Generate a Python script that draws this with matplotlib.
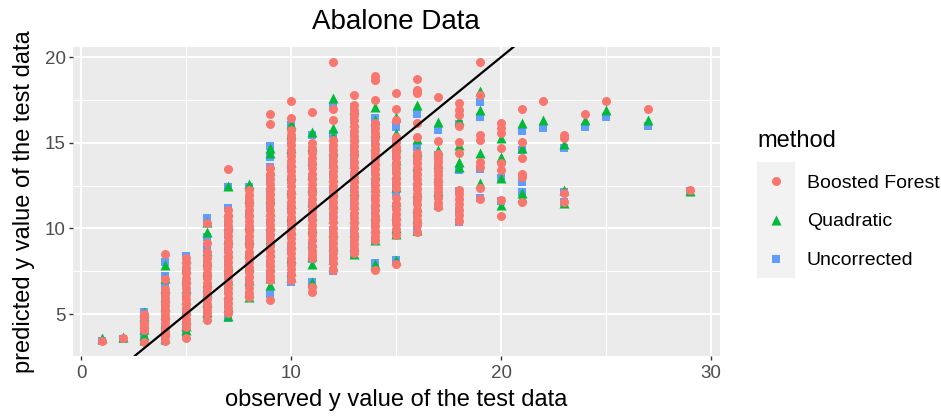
import matplotlib
matplotlib.use("Agg")
import matplotlib.pyplot as plt
from matplotlib.ticker import MultipleLocator

plt.rcParams['font.family'] = ['Liberation Sans', 'DejaVu Sans']

# ---------------- data (predicted values grouped by observed y) ----------------
methods = ["Boosted Forest", "Quadratic", "Uncorrected"]
colors = {"Boosted Forest": "#F8766D", "Quadratic": "#00BA38", "Uncorrected": "#619CFF"}

boosted_forest = {
    1: [3.4], 2: [3.6],
    3: [5.0, 4.75, 4.5, 4.25, 4.05, 3.37],
    4: [8.5, 7.05, 6.45, 6.2, 5.95, 5.7, 5.45, 5.2, 4.95, 4.7, 4.45, 4.2, 3.95, 3.7, 3.45],
    5: [8.25, 8.0, 7.7, 7.4, 7.1, 6.8, 6.5, 6.2, 5.9, 5.6, 5.3, 5.0, 4.7, 4.45, 4.25, 3.6],
    6: [10.3, 9.15, 8.6, 8.3, 8.0, 7.7, 7.4, 7.1, 6.8, 6.5, 6.2, 5.9, 5.6, 5.3, 5.05, 4.65],
    7: [13.45, 11.05, 10.75, 10.45, 10.15, 9.85, 9.55, 9.25, 8.95, 8.65, 8.35, 8.05, 7.75,
        7.45, 7.15, 6.85, 6.55, 6.25, 5.95, 5.65, 5.35, 5.05],
    8: [12.25, 11.95, 11.65, 11.35, 11.05, 10.75, 10.45, 10.15, 9.85, 9.55, 9.25, 8.95, 8.65,
        8.35, 8.05, 7.75, 7.45, 7.15, 6.85, 6.55, 6.25, 6.0],
    9: [16.65, 16.1, 13.5, 13.2, 12.9, 12.6, 12.3, 12.0, 11.7, 11.4, 11.1, 10.8, 10.5, 10.2,
        9.9, 9.6, 9.3, 9.0, 8.7, 8.4, 8.1, 7.8, 7.5, 7.25, 7.0, 5.85],
    10: [17.45, 16.45, 15.75, 15.45, 15.15, 14.85, 14.55, 14.25, 13.95, 13.65, 13.35, 13.05,
         12.75, 12.45, 12.15, 11.85, 11.55, 11.25, 10.95, 10.65, 10.35, 10.05, 9.75, 9.45,
         9.15, 8.85, 8.55, 8.25, 7.95, 7.65, 7.35, 7.0],
    11: [16.8, 15.0, 14.7, 14.4, 14.1, 13.8, 13.5, 13.2, 12.9, 12.6, 12.3, 12.0, 11.7, 11.4,
         11.1, 10.8, 10.5, 10.2, 9.9, 9.6, 9.3, 9.0, 8.7, 8.45, 8.25, 6.6, 6.3],
    12: [19.7, 17.0, 16.3, 15.15, 14.85, 14.55, 14.25, 13.95, 13.65, 13.35, 13.05, 12.75,
         12.45, 12.15, 11.85, 11.55, 11.25, 10.95, 10.65, 10.35, 10.05, 9.75, 9.45, 9.15,
         8.85, 8.55, 8.25, 8.0, 7.55],
    13: [17.8, 17.2, 16.9, 16.6, 16.3, 16.0, 15.7, 15.4, 15.1, 14.8, 14.5, 14.2, 13.9, 13.6,
         13.3, 13.0, 12.7, 12.4, 12.1, 11.8, 11.5, 11.2, 10.9, 10.6, 10.3, 10.0, 9.7, 9.4,
         9.1, 8.8, 8.55],
    14: [18.9, 18.65, 17.5, 16.15, 15.85, 15.55, 15.25, 14.95, 14.65, 14.35, 14.05, 13.75,
         13.45, 13.15, 12.85, 12.55, 12.25, 11.95, 11.65, 11.35, 11.05, 10.75, 10.45, 10.15,
         9.85, 9.55, 9.3, 7.55],
    15: [17.9, 17.0, 16.3, 15.35, 15.05, 14.75, 14.45, 14.15, 13.85, 13.55, 13.25, 12.95,
         12.65, 12.35, 11.75, 11.45, 11.15, 10.85, 10.55, 10.25, 9.95, 9.6, 7.9],
    16: [18.7, 18.1, 17.9, 16.15, 15.35, 14.4, 14.1, 13.8, 13.5, 13.2, 12.9, 12.6, 12.3,
         12.0, 11.7, 11.4, 11.1, 10.8, 10.5, 10.2, 9.8],
    17: [17.7, 15.1, 14.35, 14.1, 13.85, 13.6, 13.35, 13.1, 12.85, 12.6, 12.35, 12.1, 11.8,
         11.5, 11.25],
    18: [17.3, 16.9, 16.6, 16.0, 15.05, 14.4, 12.25, 12.0, 11.7, 11.4, 11.1, 10.8, 10.45],
    19: [19.7, 17.8, 15.45, 15.15, 13.9, 13.6, 12.35, 11.7],
    20: [16.15, 15.85, 15.55, 14.7, 13.8, 13.4, 11.65, 10.7],
    21: [17.0, 15.05, 14.1, 13.2, 13.0, 11.55],
    22: [17.45],
    23: [15.45, 15.25, 12.05, 11.55],
    24: [16.7],
    25: [17.45],
    27: [17.0],
    29: [12.25],
}

quadratic = {
    1: [3.6], 2: [3.65],
    3: [5.15, 4.9, 4.5, 4.1, 3.75, 3.5],
    4: [7.85, 7.1, 6.5, 6.0, 5.5, 5.0, 4.5, 4.0, 3.6],
    5: [8.3, 7.7, 7.1, 6.5, 5.9, 5.3, 4.7, 4.3, 4.05],
    6: [10.4, 9.8, 8.7, 8.1, 7.5, 6.9, 6.3, 5.7, 5.1, 4.9],
    7: [12.45, 11.0, 10.2, 9.4, 8.6, 7.8, 7.0, 6.2, 5.4, 4.9],
    8: [12.6, 11.8, 11.0, 10.2, 9.4, 8.6, 7.8, 7.0, 6.3, 6.0],
    9: [14.7, 14.4, 13.4, 12.6, 11.8, 11.0, 10.2, 9.4, 8.6, 7.8, 7.1, 6.7],
    10: [16.1, 15.5, 14.7, 13.9, 13.1, 12.3, 11.5, 10.7, 9.9, 9.1, 8.3, 7.5, 7.15],
    11: [15.6, 14.8, 14.0, 13.2, 12.4, 11.6, 10.8, 10.0, 9.2, 8.4, 7.95, 6.85],
    12: [17.6, 15.85, 15.4, 14.6, 13.8, 13.0, 12.2, 11.4, 10.6, 9.8, 9.0, 8.2, 7.8],
    13: [17.0, 16.2, 15.4, 14.6, 13.8, 13.0, 12.2, 11.4, 10.6, 9.8, 9.0, 8.5],
    14: [17.1, 16.3, 15.6, 14.8, 14.0, 13.2, 12.4, 11.6, 10.8, 10.0, 9.3, 7.95],
    15: [16.5, 15.55, 14.8, 14.0, 13.2, 12.4, 11.6, 10.8, 10.0, 9.7, 8.15],
    16: [17.2, 15.2, 14.5, 13.7, 12.9, 12.1, 11.25, 10.6, 9.9],
    17: [16.2, 14.55, 13.8, 13.0, 12.2, 11.4],
    18: [16.3, 14.85, 13.9, 13.6],
    19: [18.05, 16.9, 14.4, 12.65],
    20: [15.25, 14.15, 12.95, 11.35],
    21: [16.15, 14.7, 12.05, 11.85],
    22: [16.3],
    23: [14.95, 12.25, 11.5],
    24: [16.3],
    25: [16.9],
    27: [16.35],
    29: [12.2],
}

uncorrected = {
    1: [3.45], 2: [3.55],
    3: [5.1, 4.8, 4.4, 4.1, 3.6, 3.4],
    4: [8.05, 7.25, 6.6, 6.0, 5.4, 4.8, 4.2, 3.6, 3.4],
    5: [8.4, 7.6, 6.8, 6.0, 5.2, 4.5, 4.2, 3.9],
    6: [10.6, 9.5, 8.8, 8.0, 7.2, 6.4, 5.6, 5.0, 4.8],
    7: [12.4, 11.2, 10.4, 9.6, 8.8, 8.0, 7.2, 6.4, 5.6, 4.75],
    8: [12.4, 11.6, 10.8, 10.0, 9.2, 8.4, 7.6, 6.8, 6.1],
    9: [14.8, 14.15, 13.6, 12.8, 12.0, 11.2, 10.4, 9.6, 8.8, 8.0, 7.2, 6.2],
    10: [16.05, 15.15, 14.4, 13.6, 12.8, 12.0, 11.2, 10.4, 9.6, 8.8, 8.0, 7.2, 6.9],
    11: [15.45, 14.6, 13.8, 13.0, 12.2, 11.4, 10.6, 9.8, 9.0, 8.2, 6.9],
    12: [17.1, 15.5, 14.7, 13.9, 13.1, 12.3, 11.5, 10.7, 9.9, 9.1, 8.3, 7.5],
    13: [17.1, 16.3, 15.5, 14.7, 13.9, 13.1, 12.3, 11.5, 10.7, 9.9, 9.1, 8.5],
    14: [16.45, 15.8, 15.0, 14.2, 13.4, 12.6, 11.8, 11.0, 10.2, 9.25, 8.0],
    15: [15.9, 15.0, 14.2, 13.4, 12.6, 12.05, 11.3, 10.5, 9.6, 8.15],
    16: [16.7, 14.75, 14.0, 13.2, 12.4, 11.6, 10.8, 10.0, 9.8],
    17: [15.75, 14.3, 13.5, 12.7, 11.9, 11.3],
    18: [16.1, 13.4, 12.2, 11.0, 10.4],
    19: [17.4, 16.5, 13.45, 11.8],
    20: [12.95, 11.6],
    21: [15.7, 14.55, 12.7, 12.1],
    22: [15.85],
    23: [14.7, 12.15, 11.55],
    24: [15.9],
    25: [16.5],
    27: [16.0],
    29: [12.2],
}

x_ticks = [0, 10, 20, 30]
y_ticks = [5, 10, 15, 20]
title = "Abalone Data"
x_label = "observed y value of the test data"
y_label = "predicted y value of the test data"


def flatten(d):
    xs, ys = [], []
    for k, vals in d.items():
        for v in vals:
            xs.append(k)
            ys.append(v)
    return xs, ys


series = {"Boosted Forest": boosted_forest, "Quadratic": quadratic, "Uncorrected": uncorrected}
markers = {"Boosted Forest": ("o", 42), "Quadratic": ("^", 52), "Uncorrected": ("s", 34)}

# ---------------- figure ----------------
W, H = 941, 417
fig = plt.figure(figsize=(W / 100, H / 100), dpi=100)
fig.patch.set_facecolor("white")

pl, pr, pt, pb = 72.6, 719.5, 47, 355.7
ax = fig.add_axes([pl / W, 1 - pb / H, (pr - pl) / W, (pb - pt) / H])
ax.set_facecolor("#EBEBEB")
for s in ax.spines.values():
    s.set_visible(False)

ax.set_xlim(-0.4, 30.4)
ax.set_ylim(2.57, 20.59)
ax.set_xticks(x_ticks)
ax.set_yticks(y_ticks)
ax.xaxis.set_minor_locator(MultipleLocator(5))
ax.yaxis.set_minor_locator(MultipleLocator(2.5))
ax.grid(which="major", color="white", linewidth=1.5)
ax.grid(which="minor", color="white", linewidth=0.75)
ax.set_axisbelow(True)
ax.tick_params(which="minor", length=0)
ax.tick_params(which="major", length=3, width=1.0, color="#333333",
               labelcolor="#4D4D4D", labelsize=13.5)
ax.tick_params(axis="x", which="major", pad=4)
ax.tick_params(axis="y", which="major", pad=2)

# draw order: Uncorrected (bottom), Quadratic, Boosted Forest (top)
for m in ["Uncorrected", "Quadratic", "Boosted Forest"]:
    xs, ys = flatten(series[m])
    mk, sz = markers[m]
    ax.scatter(xs, ys, marker=mk, s=sz, color=colors[m], linewidths=0, zorder=2)

ax.axline((0, 0), slope=1, color="black", linewidth=1.6, zorder=3)

ax.set_title(title, fontsize=20, pad=13, color="black")
ax.set_xlabel(x_label, fontsize=17, labelpad=5, color="black")
ax.set_ylabel(y_label, fontsize=17, labelpad=7, color="black")

# ---------------- legend (ggplot style) ----------------
kx0, kx1, ky0, ky1 = 757, 795, 162, 278
lax = fig.add_axes([kx0 / W, 1 - ky1 / H, (kx1 - kx0) / W, (ky1 - ky0) / H])
lax.set_facecolor("#F2F2F2")
for s in lax.spines.values():
    s.set_visible(False)
lax.set_xticks([])
lax.set_yticks([])
lax.set_xlim(0, 1)
lax.set_ylim(0, 3)
for i, m in enumerate(methods):
    mk, sz = markers[m]
    yc = 2.5 - i
    lax.scatter([0.5], [yc], marker=mk, s=sz, color=colors[m], linewidths=0)
    fig.text(807 / W, 1 - (ky0 + 2 + (i + 0.5) * (ky1 - ky0) / 3) / H, m,
             fontsize=14, va="center", ha="left", color="black")
fig.text(kx0 / W, 1 - 141 / H, "method", fontsize=17, va="center", ha="left", color="black")

fig.savefig("out.png", dpi=100, facecolor="white")
